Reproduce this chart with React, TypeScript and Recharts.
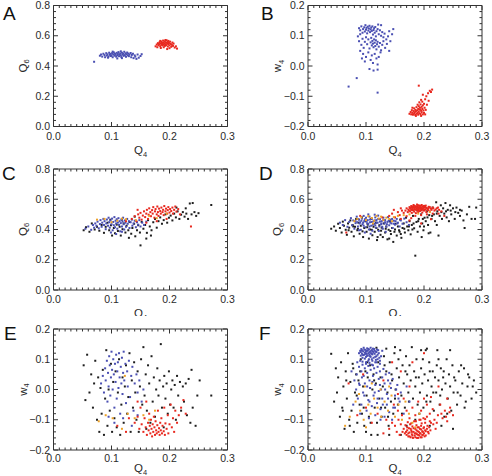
import React from "react";
import { ScatterChart, Scatter, XAxis, YAxis } from "recharts";

type Pt = [number, number];

// tick values
const q4Ticks = [0, 0.1, 0.2, 0.3];
const q4Minor = [0, 0.01, 0.02, 0.03, 0.04, 0.05, 0.06, 0.07, 0.08, 0.09, 0.1, 0.11, 0.12, 0.13, 0.14, 0.15, 0.16, 0.17, 0.18, 0.19, 0.2, 0.21, 0.22, 0.23, 0.24, 0.25, 0.26, 0.27, 0.28, 0.29, 0.3];
const q6Ticks = [0, 0.2, 0.4, 0.6, 0.8];
const q6Minor = [0, 0.04, 0.08, 0.12, 0.16, 0.2, 0.24, 0.28, 0.32, 0.36, 0.4, 0.44, 0.48, 0.52, 0.56, 0.6, 0.64, 0.68, 0.72, 0.76, 0.8];
const w4Ticks = [-0.2, -0.1, 0, 0.1, 0.2];
const w4Minor = [-0.2, -0.18, -0.16, -0.14, -0.12, -0.1, -0.08, -0.06, -0.04, -0.02, 0, 0.02, 0.04, 0.06, 0.08, 0.1, 0.12, 0.14, 0.16, 0.18, 0.2];

// panel A : Q4 vs Q6
const blueA: Pt[] = [
  [0.070, 0.428], [0.080, 0.468], [0.082, 0.476], [0.084, 0.462], [0.086, 0.481], [0.088, 0.472], [0.089, 0.458], [0.091, 0.485], [0.092, 0.469], [0.093, 0.477], [0.095, 0.463], [0.096, 0.488], [0.097, 0.474], [0.098, 0.480], [0.099, 0.466], [0.100, 0.471], [0.101, 0.485], [0.102, 0.458], [0.103, 0.477], [0.104, 0.490], [0.105, 0.468], [0.106, 0.481], [0.107, 0.474], [0.108, 0.462], [0.109, 0.487], [0.110, 0.470], [0.111, 0.479], [0.112, 0.492], [0.113, 0.465], [0.114, 0.476], [0.115, 0.483], [0.116, 0.470], [0.117, 0.459], [0.118, 0.488], [0.119, 0.475], [0.120, 0.481], [0.121, 0.467], [0.122, 0.494], [0.123, 0.472], [0.124, 0.484], [0.125, 0.461], [0.126, 0.478], [0.127, 0.489], [0.128, 0.470], [0.129, 0.482], [0.130, 0.465], [0.131, 0.476], [0.133, 0.486], [0.134, 0.458], [0.135, 0.473], [0.137, 0.481], [0.138, 0.452], [0.140, 0.470], [0.141, 0.462], [0.143, 0.447], [0.145, 0.476], [0.147, 0.455], [0.150, 0.466], [0.152, 0.478], [0.094, 0.455], [0.110, 0.450], [0.118, 0.452], [0.102, 0.495], [0.116, 0.497],
];
const redA: Pt[] = [
  [0.176, 0.530], [0.178, 0.542], [0.179, 0.524], [0.180, 0.551], [0.181, 0.537], [0.182, 0.545], [0.183, 0.558], [0.184, 0.531], [0.185, 0.549], [0.186, 0.540], [0.186, 0.562], [0.187, 0.553], [0.188, 0.536], [0.188, 0.546], [0.189, 0.568], [0.190, 0.541], [0.190, 0.556], [0.191, 0.549], [0.192, 0.533], [0.192, 0.563], [0.193, 0.544], [0.194, 0.555], [0.194, 0.538], [0.195, 0.570], [0.196, 0.548], [0.197, 0.559], [0.197, 0.529], [0.198, 0.543], [0.199, 0.552], [0.200, 0.536], [0.201, 0.561], [0.202, 0.546], [0.203, 0.527], [0.204, 0.540], [0.206, 0.533], [0.207, 0.548], [0.209, 0.522], [0.211, 0.530], [0.213, 0.515], [0.196, 0.512], [0.200, 0.518], [0.190, 0.524], [0.185, 0.519], [0.205, 0.555], [0.184, 0.566], [0.198, 0.566], [0.193, 0.572],
];

// panel B : Q4 vs w4
const blueB: Pt[] = [
  [0.088, 0.125], [0.090, 0.118], [0.092, 0.131], [0.094, 0.110], [0.095, 0.122], [0.097, 0.128], [0.098, 0.114], [0.099, 0.135], [0.100, 0.120], [0.101, 0.126], [0.102, 0.108], [0.103, 0.130], [0.104, 0.117], [0.105, 0.124], [0.106, 0.133], [0.107, 0.112], [0.108, 0.121], [0.109, 0.127], [0.110, 0.116], [0.111, 0.131], [0.112, 0.104], [0.113, 0.119], [0.114, 0.125], [0.115, 0.110], [0.116, 0.129], [0.117, 0.098], [0.118, 0.115], [0.120, 0.122], [0.121, 0.137], [0.122, 0.105], [0.124, 0.118], [0.126, 0.100], [0.128, 0.112], [0.130, 0.095], [0.132, 0.107], [0.135, 0.088], [0.138, 0.098], [0.140, 0.115], [0.142, 0.082], [0.145, 0.105], [0.147, 0.122], [0.126, 0.135],
  [0.086, 0.098], [0.088, 0.082], [0.090, 0.105], [0.092, 0.070], [0.094, 0.090], [0.096, 0.060], [0.098, 0.080], [0.100, 0.095], [0.102, 0.072], [0.104, 0.088], [0.106, 0.058], [0.108, 0.078], [0.109, 0.093], [0.110, 0.068], [0.111, 0.083], [0.112, 0.074], [0.113, 0.062], [0.114, 0.088], [0.115, 0.077], [0.116, 0.066], [0.117, 0.085], [0.118, 0.055], [0.119, 0.072], [0.120, 0.080], [0.122, 0.064], [0.124, 0.076], [0.126, 0.052], [0.128, 0.070], [0.130, 0.082], [0.133, 0.060], [0.136, 0.073], [0.140, 0.050],
  [0.095, 0.040], [0.100, 0.030], [0.104, 0.045], [0.108, 0.020], [0.110, 0.035], [0.112, 0.010], [0.115, 0.040], [0.118, 0.025], [0.120, 0.005], [0.122, 0.030], [0.106, -0.010], [0.113, -0.015], [0.120, -0.012], [0.098, 0.015], [0.125, 0.045], [0.090, 0.050], [0.093, 0.025],
  [0.084, -0.040], [0.070, -0.068], [0.120, -0.088],
];
const redB: Pt[] = [
  [0.175, -0.158], [0.177, -0.152], [0.178, -0.160], [0.179, -0.146], [0.180, -0.155], [0.181, -0.161], [0.182, -0.149], [0.183, -0.157], [0.183, -0.140], [0.184, -0.153], [0.185, -0.162], [0.185, -0.145], [0.186, -0.150], [0.187, -0.158], [0.187, -0.136], [0.188, -0.147], [0.189, -0.155], [0.189, -0.128], [0.190, -0.142], [0.190, -0.161], [0.191, -0.150], [0.191, -0.133], [0.192, -0.156], [0.192, -0.120], [0.193, -0.144], [0.193, -0.138], [0.194, -0.159], [0.194, -0.127], [0.195, -0.148], [0.195, -0.112], [0.196, -0.153], [0.196, -0.135], [0.197, -0.142], [0.197, -0.118], [0.198, -0.160], [0.198, -0.130], [0.199, -0.147], [0.200, -0.125], [0.200, -0.155], [0.201, -0.138], [0.202, -0.110], [0.203, -0.145], [0.204, -0.100], [0.205, -0.128], [0.207, -0.090], [0.208, -0.115], [0.210, -0.082], [0.212, -0.086], [0.214, -0.078], [0.191, -0.065], [0.198, -0.095], [0.180, -0.138], [0.186, -0.165], [0.195, -0.165], [0.202, -0.160],
];

// panel C : Q4 vs Q6
const blueC: Pt[] = [
  [0.055, 0.405], [0.060, 0.420], [0.065, 0.398], [0.068, 0.430], [0.070, 0.412], [0.072, 0.440], [0.074, 0.425], [0.076, 0.452], [0.078, 0.408], [0.080, 0.436], [0.081, 0.462], [0.083, 0.418], [0.084, 0.445], [0.086, 0.470], [0.087, 0.430], [0.088, 0.455], [0.090, 0.402], [0.091, 0.440], [0.092, 0.466], [0.094, 0.425], [0.095, 0.478], [0.096, 0.448], [0.097, 0.412], [0.098, 0.460], [0.100, 0.435], [0.101, 0.472], [0.102, 0.395], [0.103, 0.450], [0.104, 0.428], [0.105, 0.482], [0.106, 0.415], [0.107, 0.458], [0.108, 0.440], [0.109, 0.468], [0.110, 0.405], [0.111, 0.446], [0.112, 0.475], [0.113, 0.430], [0.114, 0.455], [0.115, 0.388], [0.116, 0.442], [0.117, 0.466], [0.118, 0.420], [0.119, 0.452], [0.120, 0.478], [0.121, 0.435], [0.122, 0.400], [0.123, 0.460], [0.124, 0.445], [0.125, 0.418], [0.127, 0.470], [0.128, 0.438], [0.130, 0.455], [0.131, 0.410], [0.133, 0.448], [0.135, 0.465], [0.136, 0.425], [0.138, 0.440], [0.140, 0.458], [0.142, 0.415], [0.144, 0.448], [0.146, 0.432], [0.148, 0.462], [0.150, 0.420], [0.153, 0.445], [0.156, 0.430], [0.160, 0.452], [0.099, 0.380], [0.108, 0.370], [0.118, 0.385],
];
const redC: Pt[] = [
  [0.135, 0.470], [0.140, 0.488], [0.143, 0.455], [0.146, 0.500], [0.148, 0.478], [0.150, 0.510], [0.152, 0.465], [0.154, 0.492], [0.156, 0.520], [0.158, 0.482], [0.160, 0.505], [0.161, 0.530], [0.163, 0.470], [0.164, 0.498], [0.165, 0.540], [0.167, 0.515], [0.168, 0.488], [0.170, 0.528], [0.171, 0.505], [0.172, 0.548], [0.174, 0.478], [0.175, 0.520], [0.176, 0.535], [0.178, 0.500], [0.179, 0.552], [0.180, 0.515], [0.181, 0.490], [0.182, 0.538], [0.184, 0.522], [0.185, 0.505], [0.186, 0.545], [0.188, 0.515], [0.189, 0.530], [0.190, 0.495], [0.191, 0.555], [0.193, 0.520], [0.194, 0.538], [0.196, 0.505], [0.197, 0.528], [0.198, 0.548], [0.200, 0.512], [0.201, 0.535], [0.203, 0.522], [0.205, 0.545], [0.206, 0.505], [0.208, 0.530], [0.210, 0.552], [0.212, 0.518], [0.215, 0.535], [0.218, 0.500], [0.195, 0.470], [0.178, 0.455], [0.160, 0.445], [0.125, 0.455], [0.237, 0.420], [0.145, 0.530],
];
const blackC: Pt[] = [
  [0.052, 0.395], [0.056, 0.415], [0.062, 0.385], [0.066, 0.440], [0.071, 0.400], [0.075, 0.418], [0.079, 0.392], [0.083, 0.430], [0.087, 0.378], [0.090, 0.418], [0.093, 0.445], [0.096, 0.395], [0.099, 0.428], [0.101, 0.360], [0.104, 0.410], [0.106, 0.375], [0.109, 0.432], [0.111, 0.390], [0.114, 0.418], [0.116, 0.360], [0.119, 0.402], [0.121, 0.440], [0.124, 0.380], [0.126, 0.425], [0.129, 0.395], [0.131, 0.450], [0.134, 0.372], [0.136, 0.410], [0.139, 0.438], [0.141, 0.355], [0.144, 0.395], [0.146, 0.428], [0.149, 0.380], [0.150, 0.295], [0.152, 0.450], [0.155, 0.405], [0.158, 0.430], [0.161, 0.378], [0.163, 0.462], [0.166, 0.420], [0.169, 0.395], [0.172, 0.448], [0.175, 0.470], [0.178, 0.412], [0.181, 0.455], [0.184, 0.480], [0.187, 0.438], [0.190, 0.462], [0.193, 0.500], [0.196, 0.445], [0.199, 0.478], [0.202, 0.492], [0.205, 0.460], [0.208, 0.505], [0.211, 0.480], [0.214, 0.520], [0.217, 0.470], [0.220, 0.498], [0.223, 0.515], [0.226, 0.485], [0.229, 0.505], [0.232, 0.470], [0.235, 0.572], [0.238, 0.500], [0.240, 0.575], [0.243, 0.515], [0.246, 0.490], [0.250, 0.508], [0.272, 0.562], [0.228, 0.540], [0.212, 0.545], [0.140, 0.485], [0.118, 0.465], [0.098, 0.465], [0.160, 0.340], [0.168, 0.360], [0.130, 0.345],
];
const orangeC: Pt[] = [
  [0.075, 0.465], [0.088, 0.470], [0.110, 0.458], [0.118, 0.472], [0.125, 0.468], [0.100, 0.448], [0.165, 0.490], [0.195, 0.505], [0.178, 0.475], [0.142, 0.462],
];

// panel D : Q4 vs Q6
const blueD: Pt[] = [
  [0.055, 0.445], [0.060, 0.430], [0.064, 0.462], [0.068, 0.418], [0.071, 0.450], [0.074, 0.475], [0.076, 0.428], [0.078, 0.460], [0.080, 0.405], [0.082, 0.442], [0.084, 0.485], [0.086, 0.420], [0.088, 0.465], [0.090, 0.448], [0.091, 0.398], [0.093, 0.472], [0.094, 0.435], [0.096, 0.490], [0.097, 0.455], [0.099, 0.415], [0.100, 0.478], [0.102, 0.440], [0.103, 0.462], [0.105, 0.400], [0.106, 0.485], [0.107, 0.448], [0.109, 0.425], [0.110, 0.470], [0.111, 0.392], [0.113, 0.455], [0.114, 0.438], [0.116, 0.480], [0.117, 0.412], [0.118, 0.462], [0.120, 0.445], [0.121, 0.492], [0.123, 0.420], [0.124, 0.468], [0.126, 0.435], [0.127, 0.455], [0.129, 0.405], [0.130, 0.478], [0.132, 0.440], [0.133, 0.462], [0.135, 0.418], [0.137, 0.450], [0.138, 0.482], [0.140, 0.428], [0.142, 0.465], [0.144, 0.440], [0.146, 0.410], [0.148, 0.458], [0.150, 0.432], [0.153, 0.470], [0.155, 0.445], [0.158, 0.420], [0.160, 0.460], [0.163, 0.438], [0.166, 0.472], [0.170, 0.448], [0.174, 0.430], [0.098, 0.380], [0.108, 0.372], [0.122, 0.390], [0.134, 0.385], [0.088, 0.395], [0.115, 0.498], [0.104, 0.500],
  [0.082, 0.455], [0.085, 0.448], [0.087, 0.468], [0.089, 0.440], [0.092, 0.458], [0.095, 0.445], [0.098, 0.468], [0.101, 0.452], [0.104, 0.438], [0.107, 0.466], [0.110, 0.450], [0.112, 0.432], [0.115, 0.460], [0.118, 0.445], [0.121, 0.470], [0.124, 0.452], [0.127, 0.440], [0.130, 0.462], [0.133, 0.448], [0.136, 0.435], [0.139, 0.458], [0.142, 0.445], [0.145, 0.470], [0.148, 0.438], [0.151, 0.455], [0.154, 0.440], [0.096, 0.425], [0.106, 0.420], [0.116, 0.428], [0.128, 0.418],
];
const redD: Pt[] = [
  [0.165, 0.510], [0.168, 0.525], [0.170, 0.540], [0.172, 0.515], [0.173, 0.532], [0.175, 0.548], [0.176, 0.520], [0.177, 0.538], [0.178, 0.555], [0.179, 0.510], [0.180, 0.528], [0.181, 0.545], [0.182, 0.562], [0.183, 0.518], [0.184, 0.535], [0.185, 0.552], [0.186, 0.508], [0.187, 0.540], [0.188, 0.525], [0.188, 0.565], [0.189, 0.548], [0.190, 0.515], [0.191, 0.535], [0.192, 0.558], [0.193, 0.522], [0.194, 0.545], [0.195, 0.530], [0.196, 0.562], [0.197, 0.512], [0.198, 0.540], [0.199, 0.552], [0.200, 0.525], [0.201, 0.545], [0.202, 0.532], [0.203, 0.558], [0.204, 0.515], [0.205, 0.540], [0.207, 0.528], [0.208, 0.550], [0.210, 0.520], [0.212, 0.538], [0.215, 0.545], [0.218, 0.525], [0.222, 0.540], [0.226, 0.530], [0.230, 0.520],
  [0.140, 0.490], [0.145, 0.505], [0.150, 0.480], [0.155, 0.515], [0.158, 0.495], [0.162, 0.525], [0.160, 0.470], [0.170, 0.488], [0.178, 0.475], [0.185, 0.490], [0.195, 0.495], [0.205, 0.500], [0.215, 0.505], [0.225, 0.505], [0.235, 0.490], [0.160, 0.540], [0.148, 0.530], [0.195, 0.440], [0.175, 0.460], [0.212, 0.468], [0.066, 0.380], [0.090, 0.490], [0.128, 0.480],
  [0.174, 0.526], [0.176, 0.542], [0.178, 0.530], [0.179, 0.546], [0.180, 0.536], [0.181, 0.552], [0.182, 0.528], [0.183, 0.544], [0.184, 0.556], [0.185, 0.532], [0.186, 0.548], [0.187, 0.528], [0.188, 0.554], [0.189, 0.535], [0.190, 0.545], [0.190, 0.560], [0.191, 0.525], [0.192, 0.548], [0.193, 0.538], [0.194, 0.556], [0.195, 0.542], [0.196, 0.528], [0.197, 0.552], [0.198, 0.532], [0.199, 0.545], [0.200, 0.556], [0.201, 0.530], [0.202, 0.550], [0.204, 0.542], [0.206, 0.532], [0.208, 0.540], [0.210, 0.548], [0.213, 0.530], [0.216, 0.540], [0.220, 0.532], [0.224, 0.545],
];
const blackD: Pt[] = [
  [0.040, 0.405], [0.045, 0.420], [0.048, 0.392], [0.052, 0.438], [0.055, 0.410], [0.058, 0.380], [0.060, 0.452], [0.062, 0.425], [0.065, 0.398], [0.067, 0.365], [0.069, 0.440], [0.071, 0.412], [0.073, 0.460], [0.075, 0.385], [0.077, 0.430], [0.079, 0.355], [0.081, 0.418], [0.083, 0.470], [0.085, 0.395], [0.087, 0.445], [0.089, 0.372], [0.091, 0.425], [0.093, 0.480], [0.095, 0.350], [0.097, 0.410], [0.099, 0.455], [0.101, 0.385], [0.103, 0.432], [0.105, 0.340], [0.107, 0.400], [0.109, 0.470], [0.111, 0.362], [0.113, 0.418], [0.115, 0.385], [0.117, 0.445], [0.119, 0.330], [0.121, 0.398], [0.123, 0.428], [0.125, 0.365], [0.127, 0.412], [0.129, 0.350], [0.131, 0.440], [0.133, 0.380], [0.135, 0.420], [0.137, 0.335], [0.139, 0.398], [0.141, 0.455], [0.143, 0.370], [0.145, 0.410], [0.147, 0.318], [0.149, 0.385], [0.151, 0.438], [0.153, 0.360], [0.155, 0.420], [0.157, 0.395], [0.159, 0.465], [0.161, 0.345], [0.163, 0.410], [0.165, 0.440], [0.167, 0.380], [0.169, 0.478], [0.171, 0.420], [0.173, 0.395], [0.175, 0.455], [0.177, 0.368], [0.179, 0.430], [0.181, 0.490], [0.183, 0.408], [0.185, 0.227], [0.187, 0.450], [0.189, 0.385], [0.191, 0.470], [0.193, 0.420], [0.195, 0.500], [0.197, 0.440], [0.199, 0.395], [0.201, 0.478], [0.203, 0.455], [0.205, 0.520], [0.207, 0.430], [0.209, 0.495], [0.211, 0.380], [0.213, 0.470], [0.215, 0.545], [0.217, 0.500], [0.219, 0.455], [0.221, 0.580], [0.223, 0.520], [0.225, 0.360], [0.227, 0.490], [0.229, 0.560], [0.231, 0.470], [0.233, 0.540], [0.235, 0.505], [0.237, 0.575], [0.239, 0.480], [0.241, 0.530], [0.243, 0.455], [0.245, 0.560], [0.247, 0.500], [0.250, 0.540], [0.253, 0.470], [0.256, 0.545], [0.259, 0.510], [0.262, 0.490], [0.265, 0.525], [0.268, 0.460], [0.270, 0.410], [0.274, 0.500], [0.278, 0.550], [0.282, 0.470], [0.288, 0.470], [0.290, 0.545], [0.222, 0.430], [0.208, 0.375], [0.196, 0.350],
  [0.070, 0.395], [0.078, 0.420], [0.086, 0.405], [0.094, 0.388], [0.102, 0.415], [0.110, 0.398], [0.118, 0.410], [0.126, 0.392], [0.134, 0.405], [0.142, 0.390], [0.150, 0.400], [0.158, 0.385], [0.166, 0.405], [0.174, 0.420], [0.182, 0.440], [0.190, 0.455], [0.198, 0.470], [0.206, 0.480], [0.214, 0.490], [0.222, 0.505], [0.230, 0.515], [0.238, 0.520], [0.246, 0.525], [0.254, 0.515], [0.262, 0.530], [0.120, 0.350], [0.140, 0.340], [0.160, 0.370], [0.180, 0.400], [0.200, 0.420],
];
const orangeD: Pt[] = [
  [0.085, 0.470], [0.092, 0.480], [0.100, 0.462], [0.104, 0.488], [0.110, 0.476], [0.114, 0.458], [0.118, 0.490], [0.122, 0.472], [0.126, 0.485], [0.130, 0.462], [0.135, 0.478], [0.140, 0.470], [0.148, 0.482], [0.155, 0.490], [0.165, 0.495], [0.175, 0.500], [0.190, 0.505], [0.080, 0.455], [0.112, 0.440], [0.145, 0.455], [0.210, 0.515],
];

// panel E : Q4 vs w4
const blueE: Pt[] = [
  [0.082, 0.020], [0.085, 0.045], [0.087, -0.010], [0.089, 0.070], [0.090, 0.030], [0.092, 0.095], [0.093, -0.040], [0.094, 0.055], [0.095, 0.010], [0.096, 0.110], [0.097, 0.080], [0.098, -0.020], [0.099, 0.040], [0.100, 0.125], [0.101, 0.065], [0.102, 0.000], [0.103, 0.100], [0.104, 0.050], [0.105, -0.060], [0.106, 0.085], [0.107, 0.025], [0.108, 0.115], [0.109, -0.030], [0.110, 0.060], [0.111, 0.090], [0.112, 0.005], [0.113, 0.120], [0.114, 0.040], [0.115, -0.080], [0.116, 0.075], [0.117, 0.020], [0.118, 0.105], [0.119, -0.015], [0.120, 0.055], [0.121, 0.125], [0.122, 0.030], [0.124, 0.085], [0.125, -0.045], [0.127, 0.060], [0.128, 0.010], [0.130, 0.095], [0.132, -0.025], [0.134, 0.045], [0.136, 0.075], [0.138, -0.070], [0.140, 0.020], [0.143, 0.050], [0.145, -0.010], [0.148, 0.030], [0.152, -0.040], [0.155, 0.000], [0.095, -0.090], [0.105, -0.110], [0.120, -0.095], [0.135, -0.120], [0.145, -0.085],
];
const redE: Pt[] = [
  [0.140, -0.110], [0.145, -0.090], [0.148, -0.130], [0.150, -0.060], [0.152, -0.115], [0.155, -0.140], [0.157, -0.095], [0.159, -0.125], [0.160, -0.040], [0.161, -0.150], [0.163, -0.110], [0.164, -0.135], [0.165, -0.080], [0.166, -0.120], [0.167, -0.145], [0.168, -0.100], [0.169, -0.130], [0.170, -0.155], [0.171, -0.115], [0.172, -0.140], [0.173, -0.090], [0.174, -0.125], [0.175, -0.150], [0.176, -0.105], [0.177, -0.135], [0.178, -0.145], [0.179, -0.118], [0.180, -0.070], [0.181, -0.140], [0.182, -0.128], [0.183, -0.150], [0.184, -0.110], [0.185, -0.135], [0.186, -0.095], [0.187, -0.145], [0.188, -0.120], [0.190, -0.138], [0.191, -0.060], [0.192, -0.150], [0.193, -0.112], [0.195, -0.130], [0.197, -0.085], [0.198, -0.145], [0.200, -0.115], [0.202, -0.050], [0.204, -0.125], [0.206, -0.095], [0.208, -0.140], [0.210, -0.070], [0.213, -0.110], [0.216, -0.085], [0.220, -0.060], [0.224, -0.035], [0.228, -0.080], [0.130, -0.095], [0.125, -0.140], [0.110, -0.120], [0.145, -0.040],
];
const blackE: Pt[] = [
  [0.052, 0.080], [0.055, -0.035], [0.058, 0.115], [0.062, -0.010], [0.065, 0.050], [0.068, -0.060], [0.070, 0.020], [0.072, 0.095], [0.075, -0.100], [0.077, 0.040], [0.079, -0.140], [0.081, 0.005], [0.083, -0.080], [0.085, 0.065], [0.087, -0.150], [0.089, -0.030], [0.091, 0.130], [0.093, -0.120], [0.095, 0.000], [0.097, -0.070], [0.099, 0.085], [0.101, -0.140], [0.103, 0.025], [0.105, -0.095], [0.107, 0.060], [0.109, -0.125], [0.111, -0.010], [0.113, 0.100], [0.115, -0.150], [0.117, -0.050], [0.119, 0.040], [0.121, -0.110], [0.123, 0.010], [0.125, 0.080], [0.127, -0.080], [0.129, -0.025], [0.131, 0.120], [0.133, -0.140], [0.135, 0.030], [0.137, -0.060], [0.139, 0.090], [0.141, -0.010], [0.143, -0.100], [0.145, 0.060], [0.147, -0.140], [0.149, 0.010], [0.151, 0.100], [0.153, -0.050], [0.155, 0.140], [0.157, -0.020], [0.159, 0.050], [0.161, -0.070], [0.163, 0.080], [0.165, 0.020], [0.167, -0.110], [0.169, 0.110], [0.171, -0.040], [0.173, 0.040], [0.175, -0.090], [0.177, 0.000], [0.179, 0.070], [0.181, -0.020], [0.183, 0.030], [0.185, 0.150], [0.187, -0.060], [0.189, 0.010], [0.191, 0.045], [0.193, -0.030], [0.195, 0.020], [0.197, -0.080], [0.199, 0.060], [0.201, -0.050], [0.203, 0.000], [0.205, 0.030], [0.207, -0.060], [0.209, 0.015], [0.211, -0.100], [0.213, 0.045], [0.215, -0.020], [0.218, 0.025], [0.220, -0.070], [0.223, 0.010], [0.225, -0.040], [0.228, 0.020], [0.230, -0.085], [0.233, 0.035], [0.236, -0.110], [0.238, 0.065], [0.240, -0.060], [0.245, -0.120], [0.248, -0.020], [0.252, 0.030], [0.272, -0.020], [0.160, -0.130], [0.190, -0.125],
];
const orangeE: Pt[] = [
  [0.078, -0.105], [0.090, -0.085], [0.102, -0.095], [0.118, -0.130], [0.128, -0.080], [0.140, -0.095], [0.155, -0.085], [0.165, -0.100], [0.175, -0.070], [0.123, 0.045],
];

// panel F : Q4 vs w4
const blueF: Pt[] = [
  [0.088, 0.120], [0.090, 0.128], [0.091, 0.112], [0.092, 0.134], [0.093, 0.118], [0.094, 0.105], [0.095, 0.126], [0.096, 0.138], [0.097, 0.115], [0.098, 0.122], [0.099, 0.131], [0.100, 0.108], [0.100, 0.125], [0.101, 0.118], [0.102, 0.136], [0.103, 0.112], [0.103, 0.128], [0.104, 0.120], [0.105, 0.100], [0.105, 0.132], [0.106, 0.115], [0.107, 0.125], [0.108, 0.138], [0.108, 0.108], [0.109, 0.120], [0.110, 0.130], [0.111, 0.095], [0.111, 0.116], [0.112, 0.126], [0.113, 0.105], [0.114, 0.134], [0.115, 0.118], [0.116, 0.090], [0.117, 0.125], [0.118, 0.110], [0.119, 0.132], [0.120, 0.100], [0.122, 0.120], [0.124, 0.085], [0.126, 0.110], [0.128, 0.128],
  [0.091, 0.124], [0.093, 0.130], [0.095, 0.114], [0.097, 0.132], [0.099, 0.118], [0.101, 0.128], [0.102, 0.112], [0.104, 0.134], [0.106, 0.122], [0.107, 0.110], [0.109, 0.128], [0.110, 0.118], [0.112, 0.135], [0.113, 0.122], [0.115, 0.128], [0.116, 0.108], [0.118, 0.124], [0.120, 0.115], [0.121, 0.130], [0.123, 0.105], [0.098, 0.102], [0.104, 0.095], [0.110, 0.100], [0.117, 0.098], [0.094, 0.092], [0.100, 0.085], [0.106, 0.088], [0.112, 0.080], [0.118, 0.090], [0.124, 0.095],
  [0.085, 0.090], [0.088, 0.075], [0.090, 0.095], [0.092, 0.060], [0.094, 0.082], [0.096, 0.045], [0.098, 0.070], [0.100, 0.090], [0.102, 0.055], [0.104, 0.078], [0.106, 0.030], [0.108, 0.065], [0.110, 0.082], [0.112, 0.045], [0.114, 0.070], [0.116, 0.015], [0.118, 0.055], [0.120, 0.075], [0.122, 0.035], [0.124, 0.060], [0.126, 0.000], [0.128, 0.040], [0.130, 0.068], [0.132, 0.020], [0.134, 0.050], [0.136, -0.015], [0.138, 0.030], [0.140, 0.055], [0.143, 0.005], [0.146, 0.035], [0.150, -0.020], [0.154, 0.015], [0.158, -0.040],
  [0.080, 0.030], [0.083, 0.000], [0.086, -0.030], [0.089, 0.015], [0.092, -0.050], [0.095, -0.010], [0.098, 0.020], [0.101, -0.070], [0.104, -0.035], [0.107, 0.005], [0.110, -0.055], [0.113, -0.020], [0.116, -0.085], [0.119, -0.045], [0.122, -0.005], [0.125, -0.065], [0.128, -0.030], [0.132, -0.090], [0.136, -0.050], [0.140, -0.075], [0.145, -0.100], [0.150, -0.060], [0.160, -0.010], [0.165, -0.080], [0.075, 0.060], [0.078, -0.050], [0.170, 0.010], [0.175, -0.040],
  [0.084, 0.050], [0.088, 0.020], [0.093, 0.040], [0.097, -0.020], [0.102, 0.010], [0.106, -0.040], [0.111, 0.025], [0.115, -0.010], [0.120, -0.030], [0.124, 0.015], [0.129, -0.050], [0.133, 0.000], [0.138, -0.030], [0.142, 0.020], [0.147, -0.060], [0.152, 0.000], [0.156, -0.030], [0.090, -0.080], [0.105, -0.095], [0.125, -0.100],
];
const redF: Pt[] = [
  [0.165, -0.130], [0.167, -0.145], [0.168, -0.118], [0.170, -0.150], [0.171, -0.135], [0.172, -0.108], [0.173, -0.155], [0.174, -0.128], [0.175, -0.142], [0.176, -0.115], [0.177, -0.158], [0.178, -0.135], [0.179, -0.148], [0.180, -0.122], [0.181, -0.160], [0.182, -0.140], [0.183, -0.105], [0.184, -0.152], [0.185, -0.130], [0.186, -0.145], [0.187, -0.118], [0.188, -0.160], [0.189, -0.138], [0.190, -0.150], [0.191, -0.125], [0.192, -0.100], [0.193, -0.145], [0.194, -0.158], [0.195, -0.132], [0.196, -0.112], [0.197, -0.150], [0.198, -0.140], [0.199, -0.095], [0.200, -0.125], [0.201, -0.155], [0.202, -0.110], [0.203, -0.138], [0.205, -0.090], [0.206, -0.120], [0.208, -0.145], [0.210, -0.080], [0.212, -0.110], [0.215, -0.065], [0.218, -0.100], [0.220, -0.130], [0.224, -0.085], [0.228, -0.050], [0.232, -0.095], [0.236, -0.070], [0.240, -0.105], [0.245, -0.060], [0.250, -0.085],
  [0.169, -0.140], [0.171, -0.125], [0.173, -0.145], [0.175, -0.155], [0.177, -0.130], [0.179, -0.140], [0.180, -0.152], [0.182, -0.128], [0.184, -0.145], [0.185, -0.158], [0.187, -0.135], [0.188, -0.148], [0.189, -0.125], [0.190, -0.160], [0.191, -0.140], [0.192, -0.152], [0.193, -0.130], [0.194, -0.145], [0.195, -0.120], [0.196, -0.158], [0.197, -0.138], [0.198, -0.150], [0.199, -0.128], [0.200, -0.145], [0.202, -0.135], [0.203, -0.152], [0.205, -0.130], [0.207, -0.140], [0.209, -0.125], [0.211, -0.135], [0.178, -0.112], [0.186, -0.105], [0.194, -0.100], [0.202, -0.098], [0.210, -0.105], [0.216, -0.115], [0.222, -0.110], [0.230, -0.080], [0.238, -0.090], [0.244, -0.075],
  [0.150, -0.120], [0.153, -0.140], [0.156, -0.100], [0.158, -0.150], [0.160, -0.115], [0.162, -0.085], [0.163, -0.140], [0.155, -0.070], [0.145, -0.110], [0.140, -0.130], [0.135, -0.100], [0.130, -0.145], [0.148, -0.050], [0.170, -0.070], [0.180, -0.060], [0.190, -0.040], [0.195, -0.070], [0.185, -0.085], [0.175, -0.095], [0.200, -0.030], [0.205, -0.050], [0.212, -0.025], [0.165, -0.030], [0.155, -0.015], [0.175, 0.010], [0.120, -0.080], [0.110, -0.110], [0.100, -0.060], [0.095, 0.050], [0.085, -0.085], [0.130, 0.030], [0.160, 0.060], [0.180, 0.090], [0.200, 0.120], [0.070, 0.020], [0.225, 0.010], [0.240, -0.030], [0.145, 0.090],
];
const blackF: Pt[] = [
  [0.040, 0.118], [0.045, -0.040], [0.048, 0.070], [0.050, -0.010], [0.052, 0.040], [0.055, -0.090], [0.057, 0.090], [0.059, -0.060], [0.061, 0.010], [0.063, -0.130], [0.065, 0.060], [0.067, -0.030], [0.069, 0.120], [0.071, -0.100], [0.073, 0.025], [0.075, -0.070], [0.077, 0.085], [0.079, -0.140], [0.081, -0.010], [0.083, 0.050], [0.085, -0.110], [0.087, 0.030], [0.089, -0.050], [0.091, 0.100], [0.093, -0.080], [0.095, 0.010], [0.097, -0.120], [0.099, 0.060], [0.101, -0.020], [0.103, 0.040], [0.105, -0.090], [0.107, 0.080], [0.109, -0.150], [0.111, 0.000], [0.113, 0.050], [0.115, -0.060], [0.117, 0.020], [0.119, -0.110], [0.121, 0.090], [0.123, -0.030], [0.125, 0.040], [0.127, -0.090], [0.129, 0.010], [0.131, 0.110], [0.133, -0.060], [0.135, 0.060], [0.137, -0.010], [0.139, -0.120], [0.141, 0.090], [0.143, -0.040], [0.145, 0.030], [0.147, -0.080], [0.149, 0.120], [0.151, 0.000], [0.153, 0.070], [0.155, -0.050], [0.157, 0.040], [0.159, 0.130], [0.161, -0.020], [0.163, 0.080], [0.165, 0.020], [0.167, -0.060], [0.169, 0.110], [0.171, 0.050], [0.173, -0.010], [0.175, 0.080], [0.177, 0.030], [0.179, 0.140], [0.181, -0.030], [0.183, 0.060], [0.185, 0.010], [0.187, 0.100], [0.189, -0.050], [0.191, 0.040], [0.193, -0.010], [0.195, 0.070], [0.197, 0.020], [0.199, -0.060], [0.201, 0.050], [0.203, 0.130], [0.205, -0.020], [0.207, 0.030], [0.209, 0.090], [0.211, -0.040], [0.213, 0.010], [0.215, 0.060], [0.217, -0.070], [0.219, 0.040], [0.221, -0.010], [0.223, 0.130], [0.225, 0.030], [0.227, -0.050], [0.229, 0.070], [0.231, 0.000], [0.233, 0.040], [0.235, -0.090], [0.237, 0.020], [0.239, 0.100], [0.241, -0.030], [0.243, 0.050], [0.245, 0.010], [0.247, -0.070], [0.249, 0.080], [0.251, -0.010], [0.254, 0.030], [0.257, -0.050], [0.260, 0.060], [0.263, -0.020], [0.266, 0.020], [0.269, 0.070], [0.272, -0.040], [0.275, 0.010], [0.278, 0.040], [0.282, -0.030], [0.286, 0.030], [0.290, -0.010], [0.205, 0.135], [0.195, 0.130], [0.245, 0.130], [0.225, 0.100], [0.160, -0.150], [0.140, -0.150], [0.120, -0.150], [0.100, -0.140], [0.210, -0.120], [0.230, -0.120], [0.250, -0.130], [0.185, -0.100], [0.170, -0.120], [0.118, 0.138], [0.135, 0.135], [0.150, 0.140],
  [0.060, -0.070], [0.066, 0.030], [0.072, -0.120], [0.078, 0.070], [0.084, -0.020], [0.090, 0.060], [0.096, -0.060], [0.102, 0.090], [0.108, -0.110], [0.114, 0.030], [0.126, -0.060], [0.132, 0.080], [0.138, -0.090], [0.144, 0.050], [0.150, -0.030], [0.156, 0.100], [0.162, -0.080], [0.168, 0.060], [0.174, -0.040], [0.186, 0.040], [0.192, -0.080], [0.198, 0.100], [0.204, -0.040], [0.210, 0.060], [0.216, -0.010], [0.222, 0.080], [0.228, -0.020], [0.234, 0.060], [0.240, -0.080], [0.252, 0.040], [0.258, -0.010], [0.264, 0.080], [0.270, -0.060], [0.276, 0.050], [0.284, 0.010],
];
const orangeF: Pt[] = [
  [0.072, -0.090], [0.082, -0.040], [0.090, -0.070], [0.096, -0.100], [0.104, -0.050], [0.108, -0.080], [0.114, -0.030], [0.120, -0.060], [0.126, -0.090], [0.132, -0.040], [0.138, -0.070], [0.144, -0.020], [0.150, -0.090], [0.156, -0.050], [0.162, -0.100], [0.168, -0.040], [0.174, -0.080], [0.180, -0.110], [0.110, 0.020], [0.125, 0.000], [0.088, -0.015], [0.098, 0.010], [0.140, 0.010], [0.185, -0.125], [0.192, -0.080], [0.064, -0.120], [0.100, -0.125],
];

const BLUE = "#4a4fb2";
const RED = "#e8281e";
const BLACK = "#1e1e1e";
const ORANGE = "#eea227";
const AX = "#333";
const TXT = "#2a2a2a";
const FONT = "'Liberation Sans', Arial, Helvetica, sans-serif";

const W = 246;
const H = 160;
const PLOT_H = 121;

const COLS = [
  { left: 0, ml: 13.5, mr: 18.5 },
  { left: 246, ml: 22, mr: 10 },
];
const ROWS = [
  { top: 0, mt: 5.5, tickGap: 6.5, titleGap: 27.5, letterBase: 20 },
  { top: 160, mt: 9, tickGap: 6, titleGap: 27, letterBase: 20 },
  { top: 316, mt: 13, tickGap: 4.5, titleGap: 22, letterBase: 24 },
];

const fmtQ = (v: number) => v.toFixed(1);
const fmtW = (v: number) => (v < -0.001 ? "\u2212" + Math.abs(v).toFixed(1) : Math.abs(v).toFixed(1));

const toRows = (pts: Pt[]) => pts.map(([x, y]) => ({ x, y }));

const dot = (props: any) => (
  <rect x={props.cx - 1} y={props.cy - 1} width={2} height={2} fill={props.fill} />
);
const nothing = () => null;

// inward tick mark drawn at the axis position (tickSize and tickMargin are 0)
const tickMark = (side: "top" | "bottom" | "left" | "right", majors: number[]) => (p: any) => {
  const v = p.payload ? p.payload.value : 0;
  const big = majors.some((m) => Math.abs(m - v) < 1e-6);
  const len = big ? 4.5 : 2.5;
  const dx = side === "left" ? len : side === "right" ? -len : 0;
  const dy = side === "top" ? len : side === "bottom" ? -len : 0;
  return <line x1={p.x} y1={p.y} x2={p.x + dx} y2={p.y + dy} stroke={AX} strokeWidth={1} />;
};

const xTitle = (gap: number) => (p: any) => {
  const vb = p && p.viewBox;
  if (!vb) return null;
  return (
    <text x={vb.x + vb.width / 2} y={vb.y + gap} textAnchor="middle" fill={TXT} fontSize={11.5} fontFamily={FONT}>
      Q<tspan fontSize={7.5} dy={2.5}>4</tspan>
    </text>
  );
};

const yTitle = (sym: string, sub: string) => (p: any) => {
  const vb = p && p.viewBox;
  if (!vb) return null;
  const cx = vb.x + 13;
  const cy = vb.y + vb.height / 2;
  return (
    <text transform={`translate(${cx},${cy}) rotate(-90)`} textAnchor="middle" fill={TXT} fontSize={11.5} fontFamily={FONT}>
      {sym}<tspan fontSize={7.5} dy={2.5}>{sub}</tspan>
    </text>
  );
};

type Series = { name: string; color: string; points: Pt[] };

type PanelProps = {
  letter: string;
  col: number;
  row: number;
  kind: "q6" | "w4";
  series: Series[];
  letterX: number;
};

function Panel({ letter, col, row, kind, series, letterX }: PanelProps) {
  const c = COLS[col];
  const r = ROWS[row];
  const xh = H - r.mt - PLOT_H;
  const yTicks = kind === "q6" ? q6Ticks : w4Ticks;
  const yMinor = kind === "q6" ? q6Minor : w4Minor;
  const yDomain = kind === "q6" ? [0, 0.8] : [-0.2, 0.2];
  const yFmt = kind === "q6" ? fmtQ : fmtW;
  const tickStyle = { fill: TXT, fontSize: 10.5, fontFamily: FONT };
  const line = { stroke: AX, strokeWidth: 1 };
  const ghost = toRows(series[0].points);

  return (
    <div style={{ position: "absolute", left: c.left, top: r.top, width: W, height: H, background: "#fff" }}>
      <ScatterChart width={W} height={H} margin={{ top: r.mt, right: c.mr, bottom: 0, left: c.ml }}>
        <XAxis
          xAxisId="xb" type="number" dataKey="x" domain={[0, 0.3]} allowDataOverflow
          ticks={q4Ticks} interval={0} tickFormatter={fmtQ} tickLine={false} tickSize={0}
          tickMargin={r.tickGap} height={xh} axisLine={line} tick={tickStyle}
          label={xTitle(r.titleGap)}
        />
        <XAxis xAxisId="xbT" type="number" dataKey="x" domain={[0, 0.3]} ticks={q4Minor} interval={0}
          mirror height={1} tick={tickMark("bottom", q4Ticks)} tickLine={false} axisLine={false}
          tickSize={0} tickMargin={0} />
        <XAxis xAxisId="xtT" orientation="top" type="number" dataKey="x" domain={[0, 0.3]} ticks={q4Minor} interval={0}
          mirror height={1} tick={tickMark("top", q4Ticks)} tickLine={false} axisLine={line}
          tickSize={0} tickMargin={0} />

        <YAxis
          yAxisId="yl" type="number" dataKey="y" domain={yDomain} allowDataOverflow
          ticks={yTicks} interval={0} tickFormatter={yFmt} tickLine={false} tickSize={0}
          tickMargin={3.5} width={40} axisLine={line} tick={tickStyle}
          label={kind === "q6" ? yTitle("Q", "6") : yTitle("w", "4")}
        />
        <YAxis yAxisId="ylT" type="number" dataKey="y" domain={yDomain} ticks={yMinor} interval={0}
          mirror width={1} tick={tickMark("left", yTicks)} tickLine={false} axisLine={false}
          tickSize={0} tickMargin={0} />
        <YAxis yAxisId="yrT" orientation="right" type="number" dataKey="y" domain={yDomain} ticks={yMinor} interval={0}
          mirror width={1} tick={tickMark("right", yTicks)} tickLine={false} axisLine={line}
          tickSize={0} tickMargin={0} />

        {/* invisible series so the frame axes get their scales */}
        <Scatter data={ghost} xAxisId="xbT" yAxisId="ylT" shape={nothing} isAnimationActive={false} />
        <Scatter data={ghost} xAxisId="xtT" yAxisId="yrT" shape={nothing} isAnimationActive={false} />

        {series.map((s) => (
          <Scatter
            key={s.name}
            name={s.name}
            data={toRows(s.points)}
            xAxisId="xb"
            yAxisId="yl"
            fill={s.color}
            shape={dot}
            isAnimationActive={false}
          />
        ))}
      </ScatterChart>
      <div
        style={{
          position: "absolute",
          left: letterX,
          top: r.letterBase - 16.1,
          fontFamily: FONT,
          fontSize: 19,
          lineHeight: "19px",
          color: "#111",
        }}
      >
        {letter}
      </div>
    </div>
  );
}

export default function App() {
  return (
    <div style={{ position: "absolute", left: 0, top: 0, width: 492, height: 476, background: "#fff", overflow: "hidden" }}>
      <Panel letter="A" col={0} row={0} kind="q6" letterX={3}
        series={[{ name: "blue", color: BLUE, points: blueA }, { name: "red", color: RED, points: redA }]} />
      <Panel letter="B" col={1} row={0} kind="w4" letterX={15}
        series={[{ name: "blue", color: BLUE, points: blueB }, { name: "red", color: RED, points: redB }]} />
      <Panel letter="C" col={0} row={1} kind="q6" letterX={2}
        series={[
          { name: "black", color: BLACK, points: blackC },
          { name: "blue", color: BLUE, points: blueC },
          { name: "red", color: RED, points: redC },
          { name: "orange", color: ORANGE, points: orangeC },
        ]} />
      <Panel letter="D" col={1} row={1} kind="q6" letterX={13}
        series={[
          { name: "black", color: BLACK, points: blackD },
          { name: "blue", color: BLUE, points: blueD },
          { name: "red", color: RED, points: redD },
          { name: "orange", color: ORANGE, points: orangeD },
        ]} />
      <Panel letter="E" col={0} row={2} kind="w4" letterX={4}
        series={[
          { name: "black", color: BLACK, points: blackE },
          { name: "blue", color: BLUE, points: blueE },
          { name: "red", color: RED, points: redE },
          { name: "orange", color: ORANGE, points: orangeE },
        ]} />
      <Panel letter="F" col={1} row={2} kind="w4" letterX={13}
        series={[
          { name: "black", color: BLACK, points: blackF },
          { name: "blue", color: BLUE, points: blueF },
          { name: "red", color: RED, points: redF },
          { name: "orange", color: ORANGE, points: orangeF },
        ]} />
    </div>
  );
}
